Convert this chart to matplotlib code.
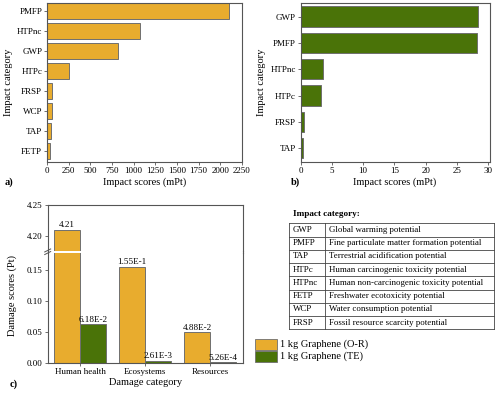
import matplotlib
matplotlib.use("Agg")
import matplotlib.pyplot as plt
import numpy as np
from matplotlib.lines import Line2D
from matplotlib.patches import Rectangle

plt.rcParams['font.family'] = ['Liberation Serif', 'DejaVu Serif']

ORANGE = '#E8AC2E'
GREEN = '#4A7308'
EDGE = '#6f6f6f'
SPINE = '#555555'

# Panel a data (O-R)
cats_a = ['PMFP', 'HTPnc', 'GWP', 'HTPc', 'FRSP', 'WCP', 'TAP', 'FETP']
vals_a = [2105, 1075, 815, 252, 55, 55, 50, 30]
xticks_a = [0, 250, 500, 750, 1000, 1250, 1500, 1750, 2000, 2250]

# Panel b data (TE)
cats_b = ['GWP', 'PMFP', 'HTPnc', 'HTPc', 'FRSP', 'TAP']
vals_b = [28.4, 28.2, 3.65, 3.35, 0.5, 0.45]
xticks_b = [0, 5, 10, 15, 20, 25, 30]

# Panel c data
dmg_cats = ['Human health', 'Ecosystems', 'Resources']
dmg_or = [4.21, 1.55e-1, 4.88e-2]
dmg_te = [6.18e-2, 2.61e-3, 5.26e-4]
lab_or = ['4.21', '1.55E-1', '4.88E-2']
lab_te = ['6.18E-2', '2.61E-3', '5.26E-4']

# Table
abbr = ['GWP', 'PMFP', 'TAP', 'HTPc', 'HTPnc', 'FETP', 'WCP', 'FRSP']
desc = ['Global warming potential',
        'Fine particulate matter formation potential',
        'Terrestrial acidification potential',
        'Human carcinogenic toxicity potential',
        'Human non-carcinogenic toxicity potential',
        'Freshwater ecotoxicity potential',
        'Water consumption potential',
        'Fossil resource scarcity potential']
legend_labels = ['1 kg Graphene (O-R)', '1 kg Graphene (TE)']

W, H = 504, 393
fig = plt.figure(figsize=(W / 100, H / 100), dpi=100)

def ax_px(x0, y0, x1, y1):
    return fig.add_axes([x0 / W, 1 - y1 / H, (x1 - x0) / W, (y1 - y0) / H])

TICK_FS = 6.5
LAB_FS = 7.5

def style(ax):
    for s in ax.spines.values():
        s.set_color(SPINE)
        s.set_linewidth(0.8)
    ax.tick_params(labelsize=TICK_FS, length=2, width=0.6, color=SPINE, pad=1.5)

# Panel a
axa = ax_px(47, 3, 242, 162)
ya = np.arange(len(cats_a))[::-1]
axa.barh(ya, vals_a, height=0.8, color=ORANGE, edgecolor=EDGE, linewidth=0.7)
axa.set_yticks(ya)
axa.set_yticklabels(cats_a)
axa.set_xticks(xticks_a)
axa.set_xlim(0, 2250)
axa.set_ylim(-0.55, 7.42)
style(axa)
axa.set_xlabel('Impact scores (mPt)', fontsize=LAB_FS, labelpad=2)
axa.set_ylabel('Impact category', fontsize=LAB_FS, labelpad=3)

# Panel b
axb = ax_px(300.5, 3, 489.5, 162)
yb = np.arange(len(cats_b))[::-1]
axb.barh(yb, vals_b, height=0.78, color=GREEN, edgecolor=EDGE, linewidth=0.7)
axb.set_yticks(yb)
axb.set_yticklabels(cats_b)
axb.set_xticks(xticks_b)
axb.set_xlim(0, 30.2)
axb.set_ylim(-0.53, 5.52)
style(axb)
axb.set_xlabel('Impact scores (mPt)', fontsize=LAB_FS, labelpad=2)
axb.set_ylabel('Impact category', fontsize=LAB_FS, labelpad=3)

fig.text(5 / W, 1 - 182 / H, 'a)', fontsize=LAB_FS, fontweight='bold', va='center')
fig.text(291 / W, 1 - 182 / H, 'b)', fontsize=LAB_FS, fontweight='bold', va='center')

# Panel c (broken axis)
x0c, x1c = 47.7, 242.7
top_c, gap_top, gap_bot, bot_c = 205, 250.5, 253, 362.7
axu = ax_px(x0c, top_c, x1c, gap_top)
axl = ax_px(x0c, gap_bot, x1c, bot_c)
xc = np.arange(len(dmg_cats))
bw = 0.4
for ax in (axu, axl):
    ax.bar(xc - bw / 2, dmg_or, width=bw, color=ORANGE, edgecolor=EDGE, linewidth=0.7)
    ax.bar(xc + bw / 2, dmg_te, width=bw, color=GREEN, edgecolor=EDGE, linewidth=0.7)
    ax.set_xlim(-0.5, 2.5)
    style(ax)
axu.set_ylim(4.25 - (gap_top - top_c) * 0.05 / 30.7, 4.25)
axu.set_yticks([4.20, 4.25])
axu.yaxis.set_major_formatter(matplotlib.ticker.FormatStrFormatter('%.2f'))
axu.spines['bottom'].set_visible(False)
axu.tick_params(axis='x', bottom=False, labelbottom=False)
axl.set_ylim(0, (bot_c - gap_bot) * 0.05 / 31)
axl.set_yticks([0, 0.05, 0.10, 0.15])
axl.yaxis.set_major_formatter(matplotlib.ticker.FormatStrFormatter('%.2f'))
axl.spines['top'].set_visible(False)
axl.set_xticks(xc)
axl.set_xticklabels(dmg_cats)
axl.set_xlabel('Damage category', fontsize=LAB_FS, labelpad=2)

# value labels
for i in range(len(dmg_cats)):
    tgt = axu if dmg_or[i] > 1 else axl
    tgt.annotate(lab_or[i], (xc[i] - bw / 2, dmg_or[i]), xytext=(0, 0.5),
                 textcoords='offset points', ha='center', va='bottom', fontsize=6.6)
    axl.annotate(lab_te[i], (xc[i] + bw / 2, dmg_te[i]), xytext=(0, 0.5),
                 textcoords='offset points', ha='center', va='bottom', fontsize=6.6)

# spine continuation across gap + break marks
for xp in (x0c, x1c):
    fig.add_artist(Line2D([xp / W, xp / W], [1 - gap_top / H, 1 - gap_bot / H],
                          color=SPINE, lw=0.8))
for dy in (-1.3, 1.3):
    yy = (gap_top + gap_bot) / 2 + dy
    fig.add_artist(Line2D([(x0c - 3) / W, (x0c + 3) / W],
                          [1 - (yy + 1.5) / H, 1 - (yy - 1.5) / H],
                          color=SPINE, lw=0.7))

fig.text(12 / W, 1 - 296 / H, 'Damage scores (Pt)', fontsize=LAB_FS,
         rotation=90, ha='center', va='center')
fig.text(10 / W, 1 - 384 / H, 'c)', fontsize=LAB_FS, fontweight='bold', va='center')

# Table
fig.text(293 / W, 1 - 214 / H, 'Impact category:', fontsize=6.6, fontweight='bold',
         va='center')
tx0, tx1, ty0, ty1, tdiv = 288.7, 494.3, 223.3, 329.3, 325.3
rh = (ty1 - ty0) / len(abbr)
for i in range(len(abbr) + 1):
    y = 1 - (ty0 + i * rh) / H
    fig.add_artist(Line2D([tx0 / W, tx1 / W], [y, y], color='#444444', lw=0.6))
for xv in (tx0, tdiv, tx1):
    fig.add_artist(Line2D([xv / W, xv / W], [1 - ty0 / H, 1 - ty1 / H],
                          color='#444444', lw=0.6))
for i, (a, d) in enumerate(zip(abbr, desc)):
    yc = 1 - (ty0 + (i + 0.5) * rh) / H
    fig.text((tx0 + 4) / W, yc, a, fontsize=6.4, va='center')
    fig.text((tdiv + 4) / W, yc, d, fontsize=6.4, va='center')

# Legend
for j, (lab, col) in enumerate(zip(legend_labels, [ORANGE, GREEN])):
    yt = 339 + j * 11.5
    fig.add_artist(Rectangle((254.7 / W, 1 - (yt + 11) / H), 22.6 / W, 11 / H,
                             transform=fig.transFigure, facecolor=col,
                             edgecolor=EDGE, lw=0.6))
    fig.text(280.3 / W, 1 - (yt + 5.5) / H, lab, fontsize=7.5, va='center')

fig.savefig('out.png', dpi=100)
